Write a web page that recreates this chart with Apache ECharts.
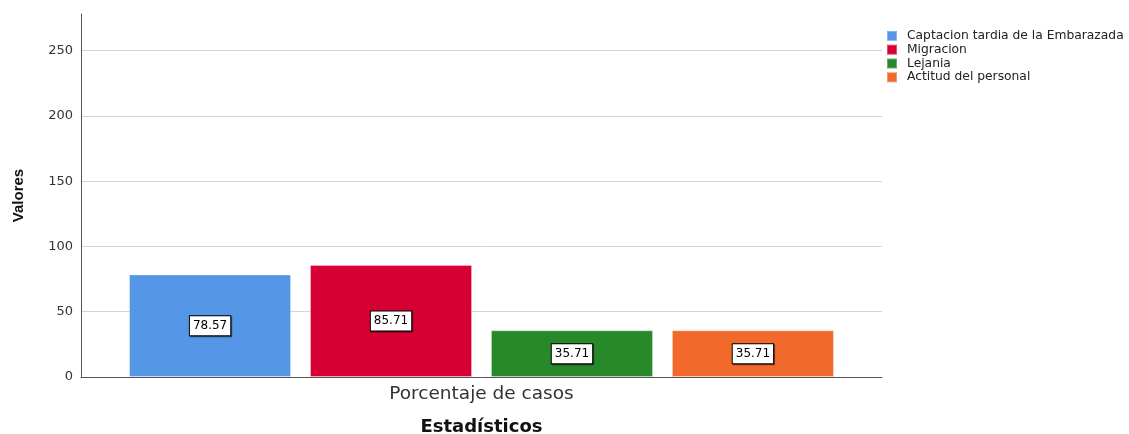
<!DOCTYPE html>
<html>
<head>
<meta charset="utf-8">
<script src="https://cdn.jsdelivr.net/npm/echarts@6/dist/echarts.min.js"></script>
<style>html,body{margin:0;padding:0;background:#fff}#c{width:1129px;height:441px}</style>
</head>
<body>
<div id="c"></div>
<script>
const categories = ['Porcentaje de casos'];
const seriesNames = ['Captacion tardia de la Embarazada', 'Migracion', 'Lejania', 'Actitud del personal'];
const seriesValues = [[78.57], [85.71], [35.71], [35.71]];
const seriesColors = ['#5596E6', '#D70032', '#27892A', '#F2692C'];
const yTicks = [0, 50, 100, 150, 200, 250];
const yAxisMax = 278;

const chart = echarts.init(document.getElementById('c'));
const gridLeft = 81, gridRight = 1129 - 882, gridTop = 14, gridBottom = 57;
const wide = 'DejaVu Sans, Verdana, sans-serif';
chart.setOption({
  backgroundColor: '#fff',
  animation: false,
  textStyle: { fontFamily: 'Liberation Sans, Arial, sans-serif' },
  grid: { left: gridLeft, right: gridRight, top: gridTop, bottom: gridBottom },
  legend: {
    orient: 'vertical', left: 881, top: 24, itemWidth: 10, itemHeight: 10, itemGap: 0,
    icon: 'rect', data: seriesNames,
    textStyle: { fontSize: 12.3, lineHeight: 13.8, color: '#222', fontFamily: wide, padding: [0, 0, 0, 5] }
  },
  xAxis: {
    type: 'category', data: categories,
    axisLine: { lineStyle: { color: '#555', width: 1 } },
    axisTick: { show: false },
    axisLabel: { fontSize: 18.5, color: '#333', margin: 8, fontFamily: wide },
    name: 'Estadísticos', nameLocation: 'middle', nameGap: 41,
    nameTextStyle: { fontSize: 18, fontWeight: 'bold', color: '#111', fontFamily: wide }
  },
  yAxis: {
    type: 'value', min: yTicks[0], max: yAxisMax, interval: 50,
    axisLine: { show: true, lineStyle: { color: '#555', width: 1 } },
    axisTick: { show: false },
    axisLabel: { fontSize: 13, color: '#333', margin: 8, fontFamily: wide, showMaxLabel: false,
      formatter: v => (yTicks.indexOf(v) >= 0 ? String(v) : '') },
    splitLine: { showMaxLine: false, lineStyle: { color: '#d4d4d4', width: 1 } },
    name: 'Valores', nameLocation: 'middle', nameGap: 55, nameRotate: 90,
    nameTextStyle: { fontSize: 15, fontWeight: 'bold', color: '#111' }
  },
  series: seriesNames.map((n, i) => ({
    name: n, type: 'bar', data: seriesValues[i], barWidth: 162, barGap: '11.7%',
    itemStyle: { color: seriesColors[i], borderColor: 'rgba(255,255,255,0.3)', borderWidth: 1 },
    label: {
      show: true, position: 'inside', formatter: p => p.value.toFixed(2),
      fontSize: 12, color: '#000', fontFamily: wide, backgroundColor: '#fff', borderColor: '#000', borderWidth: 1,
      padding: [4, 3, 3, 3], shadowColor: 'rgba(0,0,0,0.45)', shadowOffsetX: 1, shadowOffsetY: 1, shadowBlur: 0
    }
  }))
});
</script>
</body>
</html>
